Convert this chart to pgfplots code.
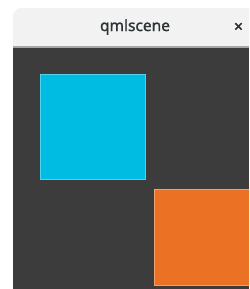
\documentclass[border=0pt]{standalone}
\usepackage{pgfplots}
\pgfplotsset{compat=1.18}
\usepackage{fontspec}
\setmainfont{Noto Sans}
\newfontfamily\titlefont[FakeBold=1.4]{Noto Sans}
\definecolor{winbg}{HTML}{3C3C3C}
\definecolor{titlebg}{HTML}{F2F2F2}
\definecolor{titleline}{HTML}{A8A6A2}
\definecolor{cyanbox}{HTML}{00BCE3}
\definecolor{cyanedge}{HTML}{4FD3EE}
\definecolor{orangebox}{HTML}{EB7125}
\definecolor{orangeedge}{HTML}{F2A070}
\definecolor{titletext}{HTML}{2E3436}
\begin{document}
\begin{tikzpicture}
\begin{axis}[
  scale only axis, width=249pt, height=289pt,
  xmin=0, xmax=249, ymin=0, ymax=289, y dir=reverse,
  axis lines=none, clip=true,
]
% white surround
\addplot[draw=none, fill=white] coordinates {(0,0) (249,0) (249,289) (0,289)} -- cycle;
% title bar
\addplot[draw=none, fill=titlebg] coordinates {(13,14) (17,9) (21,8) (249,8) (249,47) (13,47)} -- cycle;
\addplot[draw=none, fill=titleline] coordinates {(13,46) (249,46) (249,48) (13,48)} -- cycle;
% window content
\addplot[draw=none, fill=winbg] coordinates {(13,48) (249,48) (249,289) (13,289)} -- cycle;
% cyan square
\addplot[draw=cyanedge, line width=0.8pt, fill=cyanbox] coordinates {(40,74) (145,74) (145,179) (40,179)} -- cycle;
% orange square
\addplot[draw=orangeedge, line width=0.8pt, fill=orangebox] coordinates {(154,189) (255,189) (255,285) (154,285)} -- cycle;
\node[text=titletext, font=\titlefont\bfseries\fontsize{15.5}{17}\selectfont] at (axis cs:135,27) {qmlscene};
\node[text=titletext, font=\titlefont\bfseries\fontsize{16}{17}\selectfont] at (axis cs:238.5,27.5) {×};
\end{axis}
\end{tikzpicture}
\end{document}
